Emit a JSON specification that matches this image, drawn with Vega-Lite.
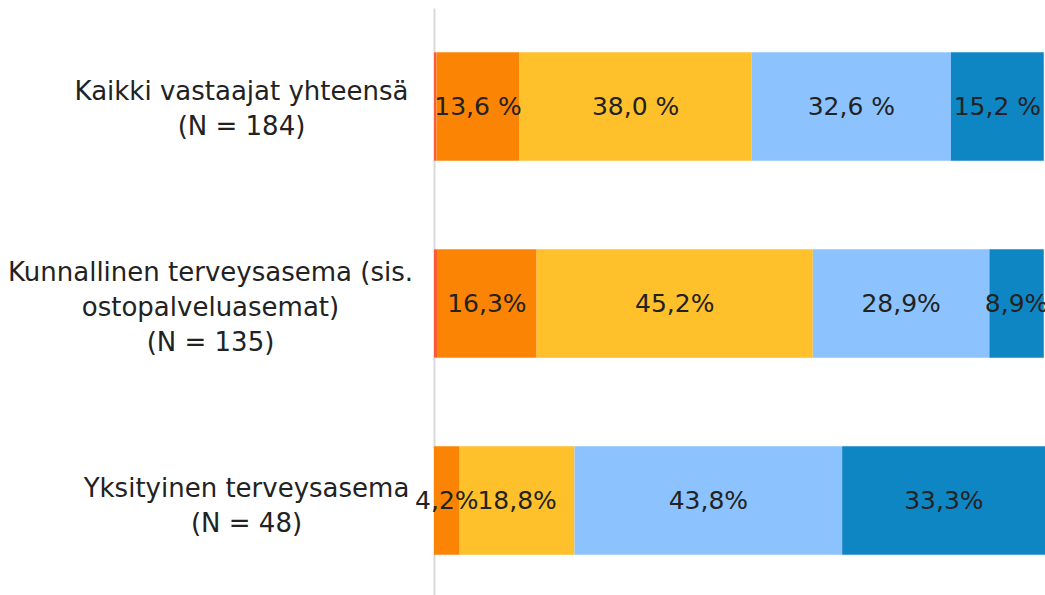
{
  "$schema": "https://vega.github.io/schema/vega-lite/v6.json",
  "width": 611,
  "height": 591,
  "autosize": {"type": "none"},
  "padding": {"left": 434, "top": 8, "right": 0, "bottom": 0},
  "config": {"view": {"stroke": null}, "font": "DejaVu Sans"},
  "data": {
    "values": [
      {"group": "Kaikki vastaajat yhteensä|(N = 184)", "cat": "1", "order": 1, "value": 0.4, "label": ""},
      {"group": "Kaikki vastaajat yhteensä|(N = 184)", "cat": "2", "order": 2, "value": 13.6, "label": "13,6 %"},
      {"group": "Kaikki vastaajat yhteensä|(N = 184)", "cat": "3", "order": 3, "value": 38.0, "label": "38,0 %"},
      {"group": "Kaikki vastaajat yhteensä|(N = 184)", "cat": "4", "order": 4, "value": 32.6, "label": "32,6 %"},
      {"group": "Kaikki vastaajat yhteensä|(N = 184)", "cat": "5", "order": 5, "value": 15.2, "label": "15,2 %"},
      {"group": "Kunnallinen terveysasema (sis.|ostopalveluasemat)|(N = 135)", "cat": "1", "order": 1, "value": 0.5, "label": ""},
      {"group": "Kunnallinen terveysasema (sis.|ostopalveluasemat)|(N = 135)", "cat": "2", "order": 2, "value": 16.3, "label": "16,3%"},
      {"group": "Kunnallinen terveysasema (sis.|ostopalveluasemat)|(N = 135)", "cat": "3", "order": 3, "value": 45.2, "label": "45,2%"},
      {"group": "Kunnallinen terveysasema (sis.|ostopalveluasemat)|(N = 135)", "cat": "4", "order": 4, "value": 28.9, "label": "28,9%"},
      {"group": "Kunnallinen terveysasema (sis.|ostopalveluasemat)|(N = 135)", "cat": "5", "order": 5, "value": 8.9, "label": "8,9%"},
      {"group": "Yksityinen terveysasema|(N = 48)", "cat": "2", "order": 2, "value": 4.2, "label": "4,2%"},
      {"group": "Yksityinen terveysasema|(N = 48)", "cat": "3", "order": 3, "value": 18.8, "label": "18,8%"},
      {"group": "Yksityinen terveysasema|(N = 48)", "cat": "4", "order": 4, "value": 43.8, "label": "43,8%"},
      {"group": "Yksityinen terveysasema|(N = 48)", "cat": "5", "order": 5, "value": 33.3, "label": "33,3%"}
    ]
  },
  "encoding": {
    "y": {
      "field": "group",
      "type": "nominal",
      "sort": null,
      "scale": {"paddingInner": 0.45, "paddingOuter": 0.225},
      "axis": {
        "title": null,
        "ticks": false,
        "grid": false,
        "domain": true,
        "domainColor": "#d9d9d9",
        "domainWidth": 2,
        "labelFontSize": 26,
        "labelColor": "#222222",
        "labelLineHeight": 35,
        "labelAlign": "center",
        "labelBaseline": "middle",
        "labelLimit": 0,
        "labelExpr": "split(datum.label, '|')",
        "labelOffset": {
          "condition": [
            {"test": "datum.value === 'Kunnallinen terveysasema (sis.|ostopalveluasemat)|(N = 135)'", "value": -31},
            {"test": "datum.value === 'Yksityinen terveysasema|(N = 48)'", "value": -12}
          ],
          "value": -15
        },
        "labelPadding": {
          "condition": [
            {"test": "datum.value === 'Kunnallinen terveysasema (sis.|ostopalveluasemat)|(N = 135)'", "value": 224},
            {"test": "datum.value === 'Yksityinen terveysasema|(N = 48)'", "value": 188}
          ],
          "value": 193
        }
      }
    }
  },
  "layer": [
    {
      "mark": {"type": "bar"},
      "encoding": {
        "x": {"field": "value", "type": "quantitative", "stack": "zero", "scale": {"domain": [0, 100]}, "axis": null},
        "color": {
          "field": "cat",
          "type": "nominal",
          "scale": {"domain": ["1", "2", "3", "4", "5"], "range": ["#FF5A36", "#FC8404", "#FFC12B", "#8CC3FF", "#0E86C4"]},
          "legend": null
        },
        "order": {"field": "order"}
      }
    },
    {
      "mark": {"type": "text", "fontSize": 25, "color": "#222222", "align": "center", "baseline": "middle"},
      "encoding": {
        "x": {"field": "value", "type": "quantitative", "stack": "zero", "bandPosition": 0.5},
        "detail": {"field": "cat"},
        "order": {"field": "order"},
        "text": {"field": "label"}
      }
    }
  ]
}
